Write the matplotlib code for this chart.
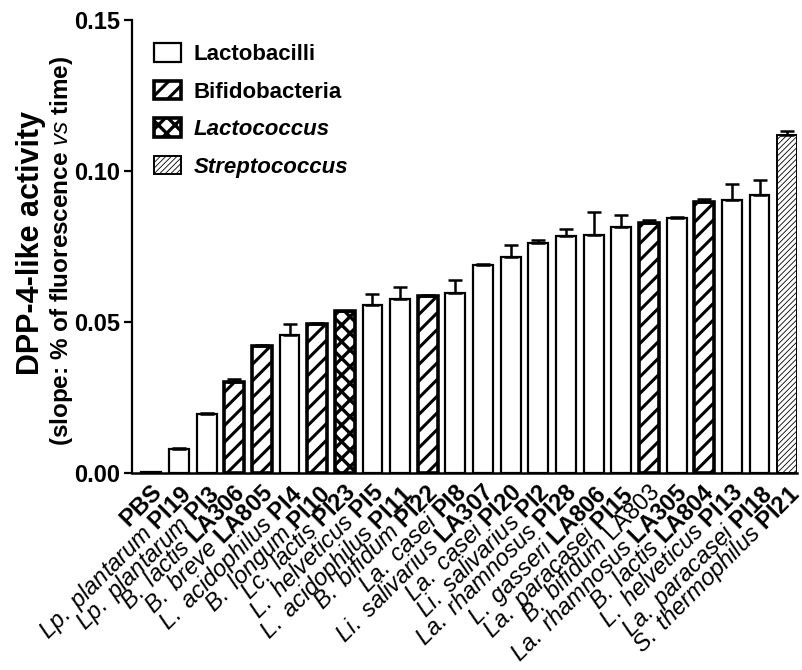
import numpy as np
import matplotlib.pyplot as plt
from matplotlib.patches import Patch

plt.rcParams['font.family'] = ['Liberation Sans', 'DejaVu Sans']
plt.rcParams['mathtext.fontset'] = 'custom'
plt.rcParams['mathtext.rm'] = 'Liberation Sans'
plt.rcParams['mathtext.it'] = 'Liberation Sans:italic'
plt.rcParams['mathtext.bf'] = 'Liberation Sans:bold'
plt.rcParams['hatch.linewidth'] = 2.2

# data
species = ['', 'Lp. plantarum', 'Lp. plantarum', 'B. lactis', 'B. breve',
           'L. acidophilus', 'B. longum', 'Lc. lactis', 'L. helveticus',
           'L. acidophilus', 'B. bifidum', 'La. casei', 'Li. salivarius',
           'La. casei', 'Li. salivarius', 'La. rhamnosus', 'L. gasseri',
           'La. paracasei', 'B. bifidum', 'La. rhamnosus', 'B. lactis',
           'L. helveticus', 'La. paracasei', 'S. thermophilus']
strains = ['PBS', 'PI19', 'PI3', 'LA306', 'LA805', 'PI4', 'PI10', 'PI23',
           'PI5', 'PI11', 'PI22', 'PI8', 'LA307', 'PI20', 'PI2', 'PI28',
           'LA806', 'PI15', 'LA803', 'LA305', 'LA804', 'PI13', 'PI18', 'PI21']
bold_strain = [True] * 18 + [False] + [True] * 5
groups = ['lacto', 'lacto', 'lacto', 'bifido', 'bifido', 'lacto', 'bifido',
          'lc', 'lacto', 'lacto', 'bifido', 'lacto', 'lacto', 'lacto',
          'lacto', 'lacto', 'lacto', 'lacto', 'bifido', 'lacto', 'bifido',
          'lacto', 'lacto', 'strep']
values = [0.0005, 0.0080, 0.0195, 0.0300, 0.0420, 0.0457, 0.0494, 0.0535,
          0.0557, 0.0576, 0.0586, 0.0597, 0.0690, 0.0714, 0.0761, 0.0784,
          0.0787, 0.0814, 0.0828, 0.0844, 0.0899, 0.0904, 0.0922, 0.1121]
errors = [0.0, 0.0002, 0.0005, 0.0010, 0.0003, 0.0036, 0.0003, 0.0003,
          0.0037, 0.0040, 0.0003, 0.0042, 0.0003, 0.0042, 0.0012, 0.0025,
          0.0076, 0.0041, 0.0010, 0.0005, 0.0009, 0.0052, 0.0048, 0.0013]

legend_names = ['Lactobacilli', 'Bifidobacteria', 'Lactococcus', 'Streptococcus']
legend_groups = ['lacto', 'bifido', 'lc', 'strep']

style = {
    'lacto': dict(hatch='', lw=1.6, hlw=2.2),
    'bifido': dict(hatch='//', lw=2.6, hlw=2.2),
    'lc': dict(hatch='xx', lw=2.6, hlw=2.4),
    'strep': dict(hatch='//////', lw=1.4, hlw=0.6),
}


def make_label(sp, st, tebal):
    parts = []
    if sp:
        parts.append(r'\mathit{' + sp.replace(' ', r'\ ') + '}')
    parts.append((r'\mathbf{' if tebal else r'\mathrm{') + st + '}')
    return '$' + r'\ '.join(parts) + '$'


def hatch_width(artist, lw):
    if hasattr(artist, 'set_hatch_linewidth'):
        artist.set_hatch_linewidth(lw)
    orig = artist.draw

    def draw(renderer):
        with plt.rc_context({'hatch.linewidth': lw}):
            orig(renderer)
    artist.draw = draw


fig = plt.figure(figsize=(8.03, 6.70), dpi=100)
ax = fig.add_axes([0.164, 0.294, 0.829, 0.676])

x = np.arange(len(values))
for i in range(len(values)):
    s = style[groups[i]]
    b = ax.bar(x[i], values[i], width=0.72, color='white', edgecolor='black',
               hatch=s['hatch'], linewidth=s['lw'], zorder=2)[0]
    hatch_width(b, s['hlw'])

ax.errorbar(x, values, yerr=[np.zeros(len(errors)), errors], fmt='none',
            ecolor='black', elinewidth=1.8, capsize=5, capthick=1.8, zorder=3)

ax.set_xlim(-0.71, 23.37)
ax.set_ylim(0, 0.15)
ax.set_yticks([0, 0.05, 0.10, 0.15])
ax.set_yticklabels(['0.00', '0.05', '0.10', '0.15'], fontsize=17,
                   fontweight='bold')
ax.set_xticks(x)
ax.set_xticklabels([make_label(a, b, c) for a, b, c in
                    zip(species, strains, bold_strain)],
                   rotation=45, ha='right', rotation_mode='anchor', fontsize=17)
ax.tick_params(axis='x', length=0, pad=6)
ax.tick_params(axis='y', length=6, width=1.6, pad=2)
for side in ['top', 'right']:
    ax.spines[side].set_visible(False)
ax.spines['left'].set_linewidth(1.6)
ax.spines['bottom'].set_linewidth(1.8)

handles = [Patch(facecolor='white', edgecolor='black',
                 hatch=style[g]['hatch'], linewidth=style[g]['lw'])
           for g in legend_groups]
leg = ax.legend(handles, legend_names, loc='upper left',
                bbox_to_anchor=(0.02, 0.968), frameon=False,
                prop=dict(size=16, weight='bold'), handlelength=1.2,
                handleheight=0.9, handletextpad=0.6, labelspacing=0.7,
                borderaxespad=0)
for p, g in zip(leg.get_patches(), legend_groups):
    hatch_width(p, style[g]['hlw'])
for t in leg.get_texts()[2:]:
    t.set_fontstyle('italic')

fig.text(0.039, 0.638, 'DPP-4-like activity', rotation=90, ha='center',
         va='center', fontsize=22, fontweight='bold')
fig.text(0.077, 0.626,
         r'(slope: % of fluorescence $\mathbf{\mathit{vs}}$ time)',
         rotation=90, ha='center', va='center', fontsize=17.5,
         fontweight='bold')

plt.savefig('out.png', dpi=100)
